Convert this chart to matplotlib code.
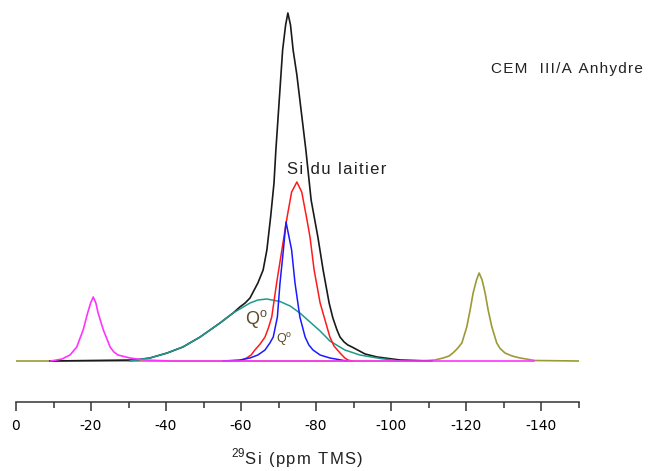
import matplotlib
matplotlib.use('Agg')
import matplotlib.pyplot as plt

# chemical shift (ppm) / intensity (a.u.)
OLIVE_X = [0, -107.7, -111.7, -113.9, -115.5, -116.5, -117.6, -118.9, -120.2, -121.1,
           -121.9, -122.8, -123.5, -124.3, -125.1, -125.9, -126.9, -128.2, -129.1,
           -130.4, -132.3, -134.4, -138.4, -150]
OLIVE_Y = [0, 0, 1, 3, 5, 8, 12, 18, 34, 51, 68, 81, 88, 81, 68, 51, 34, 18, 12.5,
           8, 5, 3, 0.5, 0]

BLACK_X = [-9.1, -31.7, -35.7, -40.3, -44.5, -49.1, -54.4, -57.9, -59.7, -61.1, -62.4,
           -64.5, -65.9, -66.9, -67.9, -68.8, -69.3, -70.2, -71.1, -71.9, -72.5, -73.2,
           -73.9, -74.9, -75.7, -77.3, -78.7, -80.5, -81.9, -83.5, -84.5, -85.6, -86.4,
           -87.5, -88.5, -89.6, -93.1, -96.3, -102.4, -110.9]
BLACK_Y = [0, 1, 3, 8, 14, 24, 38, 48, 54, 58, 63, 78, 91, 111, 144, 178, 211, 261,
           311, 336, 348, 336, 311, 286, 261, 211, 161, 124, 91, 58, 43, 31, 24, 19, 16,
           14, 7, 4, 1, 0]

RED_X = [-59.2, -60.3, -61.5, -62.7, -63.7, -65.1, -66.4, -67.3, -68.2, -69.5, -70.9,
         -72.3, -73.5, -74.9, -76.2, -77.6, -78.4, -79.5, -81.1, -82.4, -83.7, -84.8,
         -86.4, -87.7, -88.5, -89.6]
RED_Y = [0, 1, 3, 6, 11, 17, 24, 33, 44, 78, 111, 144, 169, 179, 169, 141, 124, 91,
         58, 41, 24, 15, 8, 3, 1, 0]

BLUE_X = [-55.2, -59.7, -62.4, -64.5, -66.4, -67.7, -68.6, -69.7, -70.4, -71.3, -72.0,
          -72.7, -73.5, -74.4, -75.7, -77.1, -78.1, -79.2, -81.1, -83.7, -88.2]
BLUE_Y = [0, 1, 3, 6, 11, 18, 24, 44, 78, 111, 139, 126, 111, 78, 44, 24, 16, 11, 6,
          3, 0]

TEAL_X = [-30.4, -35.7, -40.3, -44.5, -49.1, -54.4, -57.9, -62.4, -64.5, -66.9, -70.4,
          -73.1, -75.7, -78.4, -81.1, -83.7, -87.7, -91.7, -97.1, -102.4]
TEAL_Y = [0, 3, 8, 14, 24, 38, 48, 58, 61, 62, 59.5, 55, 48, 39, 30, 20, 11, 6, 2.5, 0]

MAGENTA_X = [-9.3, -12.3, -13.3, -14.4, -16.2, -17.9, -19.1, -19.9, -20.6, -21.3, -21.9,
             -23.3, -25.1, -26.1, -27.2, -30.4, -34.4, -41.1, -138.1]
MAGENTA_Y = [0, 2, 4, 6, 14, 31, 48, 58, 64, 58, 48, 31, 14, 9, 6, 3, 1, 0, 0]

MAJOR_TICKS = [0, -20, -40, -60, -80, -100, -120, -140]
MINOR_TICKS = [-10, -30, -50, -70, -90, -110, -130, -150]

TXT = '#222222'
FAM = ['Liberation Sans', 'DejaVu Sans']


def spaced(s, sp='\u200a'):
    # the original software draws text with loose letter spacing
    return sp.join(s)


fig = plt.figure(figsize=(6.6, 4.71), dpi=100)
ax = fig.add_axes([16 / 660, 68.7 / 471, 562.5 / 660, 402.3 / 471])

ax.plot(OLIVE_X, OLIVE_Y, color='#9c9a34', lw=1.2)
ax.plot(BLACK_X, BLACK_Y, color='#1a1a1a', lw=1.2)
ax.plot(TEAL_X, TEAL_Y, color='#1f9a8e', lw=1.1)
ax.plot(RED_X, RED_Y, color='#ff1a1a', lw=1.1)
ax.plot(BLUE_X, BLUE_Y, color='#1a1aff', lw=1.1)
ax.plot(MAGENTA_X, MAGENTA_Y, color='#ff33ff', lw=1.2)

ax.text(-72.3, 192, spaced('Si du laitier'), fontsize=12, color=TXT, ha='left',
        va='center', family=FAM)
ax.text(-61.1, 42, 'Q$^{\\mathregular{o}}$', fontsize=13, color='#5a4a2a', ha='left',
        va='center', family=FAM)
ax.text(-69.3, 21, 'Q$^{\\mathregular{o}}$', fontsize=9, color='#5a4a2a', ha='left',
        va='center', family=FAM)
fig.text(491 / 660, 1 - 69 / 471, spaced('CEM  III/A Anhydre'), fontsize=11,
         color=TXT, ha='left', va='center', family=FAM)

ax.set_xlim(0, -150)
ax.set_ylim(-41.3, 361)
ax.set_xticks(MAJOR_TICKS)
ax.set_xticks(MINOR_TICKS, minor=True)
ax.set_xticklabels([str(t) for t in MAJOR_TICKS], fontsize=9.5, color=TXT, family=FAM)
ax.tick_params(axis='x', which='major', direction='out', length=6.8, width=1.1, pad=5,
               color='#333333')
ax.tick_params(axis='x', which='minor', direction='out', length=4, width=1.1,
               color='#333333')
ax.set_yticks([])
for s in ['top', 'left', 'right']:
    ax.spines[s].set_visible(False)
ax.spines['bottom'].set_position(('data', -41.3))
ax.spines['bottom'].set_color('#333333')
ax.spines['bottom'].set_linewidth(1.1)
ax.set_xlabel('$^{\\mathregular{29}}$' + spaced('Si (ppm TMS)'), fontsize=12, color=TXT,
              family=FAM, labelpad=10)

fig.savefig('out.png', dpi=100)
